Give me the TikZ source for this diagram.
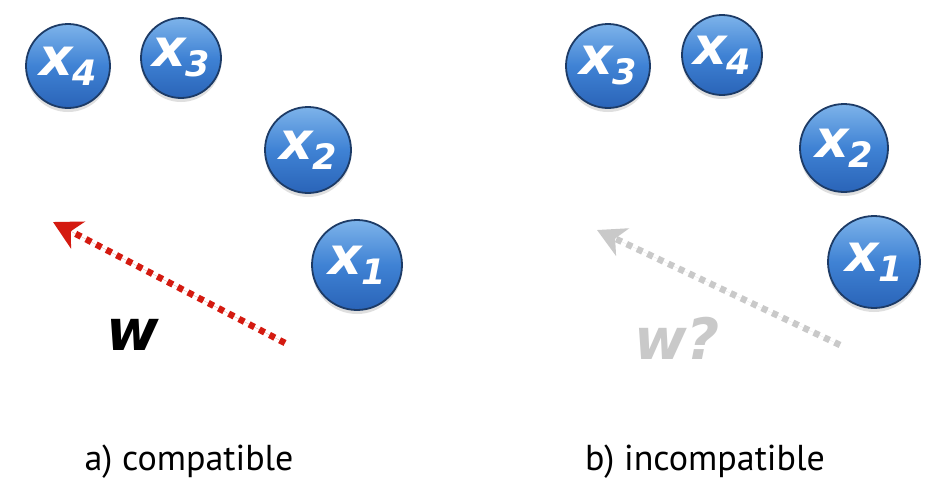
\documentclass[tikz,border=0pt]{standalone}
\usepackage{fontspec}
\setmainfont{PT Sans}
\newfontfamily\ballfont{DejaVu Sans}
\usetikzlibrary{arrows.meta, shadows}
\definecolor{ballhi}{HTML}{7db3ea}
\definecolor{ballmid}{HTML}{3f82d4}
\definecolor{balllo}{HTML}{2a64b8}
\definecolor{ballrim}{HTML}{1d3b66}
\definecolor{cred}{HTML}{d41a10}
\definecolor{cgrey}{HTML}{c9c9c9}
\newcommand{\xsub}[1]{{\ballfont\bfseries\itshape
  {\fontsize{52}{52}\selectfont x}\raisebox{-10pt}{\fontsize{35}{35}\selectfont #1}}}

\begin{document}
\begin{tikzpicture}[
  x=1pt, y=-1pt,
  ball/.style={circle, draw=ballrim, line width=1.8pt, minimum size=#1,
               inner sep=0pt, text=white, top color=ballhi, bottom color=balllo,
               middle color=ballmid,
               drop shadow={shadow xshift=0pt, shadow yshift=-4pt, opacity=0.25}},
  ball/.default=84pt,
  warr/.style={-{Stealth[length=28pt, width=30pt, inset=8pt]}, line width=6.5pt,
               dash pattern=on 6pt off 5.5pt},
  wlab/.style={font=\ballfont\bfseries\itshape\fontsize{57}{57}\selectfont},
  caption/.style={font=\fontsize{36}{36}\selectfont},
  ]
\useasboundingbox[fill=white] (0,0) rectangle (948,498);
% ---- a) compatible
\node[ball]       (a4) at (68,66)   {\xsub{4}};
\node[ball=80pt]  (a3) at (181,58)  {\xsub{3}};
\node[ball=86pt]  (a2) at (308,150) {\xsub{2}};
\node[ball=90pt]  (a1) at (357,265) {\xsub{1}};
\coordinate (aw0) at (285,343);
\coordinate (aw1) at (53,222);
\draw[warr, draw=cred, fill=cred] (aw0) -- (aw1);
\node[wlab, text=black] (aw) at (133,335) {w};
\node[caption] (acap) at (189,462) {a) compatible};
% ---- b) incompatible
\node[ball]       (b3) at (608,66)  {\xsub{3}};
\node[ball=80pt]  (b4) at (722,55)  {\xsub{4}};
\node[ball=88pt]  (b2) at (844,148) {\xsub{2}};
\node[ball=92pt]  (b1) at (874,262) {\xsub{1}};
\coordinate (bw0) at (840,345);
\coordinate (bw1) at (597,230);
\draw[warr, draw=cgrey, fill=cgrey] (bw0) -- (bw1);
\node[wlab, text=cgrey] (bw) at (677,338) {w?};
\node[caption] (bcap) at (705,462) {b) incompatible};
\end{tikzpicture}
\end{document}
